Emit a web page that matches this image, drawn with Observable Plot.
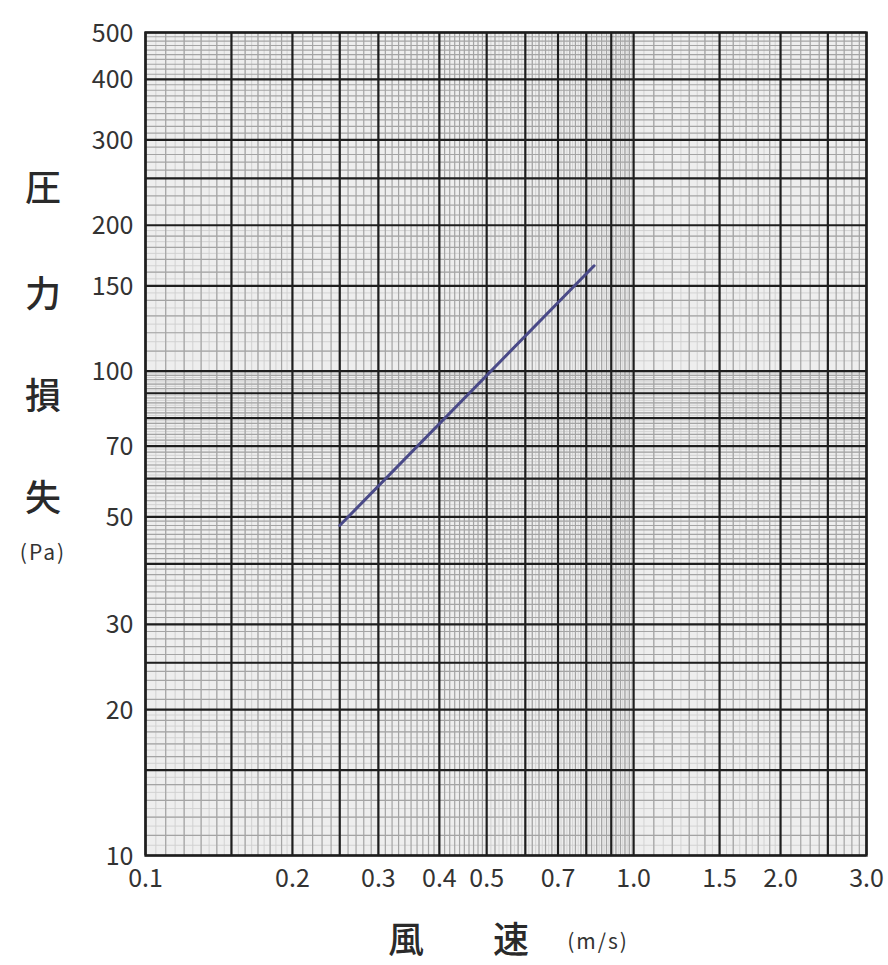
<!DOCTYPE html>
<html><head><meta charset="utf-8">
<script src="https://cdn.jsdelivr.net/npm/d3@7"></script>
<script src="https://cdn.jsdelivr.net/npm/@observablehq/plot@0.6"></script>
<style>
body{margin:0;background:#fff;}
#wrap{position:relative;width:888px;height:965px;font-family:"Noto Sans CJK JP",sans-serif;color:#2a2a2a;overflow:hidden;}
.t{position:absolute;white-space:nowrap;text-align:center;width:100px;height:50px;line-height:50px;}
.big{font-size:36px;font-weight:500;}
.unit{font-size:21px;letter-spacing:2px;color:#333;}
</style></head>
<body><div id="wrap"></div>
<script>
// scale domains
const xDomain = [0.1, 3.0];
const yDomain = [10, 500];
// heavy grid lines
const xMajor = [0.1, 0.15, 0.2, 0.25, 0.3, 0.4, 0.5, 0.6, 0.7, 0.8, 0.9, 1.0, 1.5, 2.0, 2.5, 3.0];
const yMajor = [10, 15, 20, 25, 30, 40, 50, 60, 70, 80, 90, 100, 150, 200, 250, 300, 400, 500];
// tick labels
const xTicks = [0.1, 0.2, 0.3, 0.4, 0.5, 0.7, 1.0, 1.5, 2.0, 3.0];
const yTicks = [10, 20, 30, 50, 70, 100, 150, 200, 300, 400, 500];
// graph-paper subdivisions: [start, end, step]
const xMediumSeg = [[0.1,0.2,0.01],[0.2,0.5,0.01],[0.5,1.0,0.02],[1.0,2.0,0.1],[2.0,3.0,0.1]];
const xFineSeg   = [[0.1,0.2,0.005],[0.5,1.0,0.01],[1.0,2.0,0.05]];
const yMediumSeg = [[10,20,1],[20,50,1],[50,100,2],[100,200,10],[200,500,10]];
const yFineSeg   = [[10,20,0.5],[50,100,1],[100,200,5]];
// series: 風速 (m/s) vs 圧力損失 (Pa)
const velocity = [0.25, 0.83];
const pressure = [48, 165];

function expand(segs){
  const out = [];
  for (const [a,b,s] of segs){
    const n = Math.round((b-a)/s);
    for (let i=1;i<n;i++) out.push(+(a+i*s).toFixed(4));
  }
  return out;
}
const xMedium = expand(xMediumSeg), xFine = expand(xFineSeg);
const yMedium = expand(yMediumSeg), yFine = expand(yFineSeg);
const series = velocity.map((v,i)=>({v, p: pressure[i]}));

const chart = Plot.plot({
  width: 888, height: 905,
  marginLeft: 145, marginRight: 22, marginTop: 32, marginBottom: 50,
  style: {fontSize: "25px", fontFamily: "'Noto Sans CJK JP', sans-serif", color: "#333", background: "transparent", overflow: "visible"},
  x: {type: "log", domain: xDomain},
  y: {type: "log", domain: yDomain},
  marks: [
    Plot.frame({fill: "#eeeeee"}),
    Plot.ruleX(xFine, {stroke: "#cfcfcf", strokeWidth: 0.9}),
    Plot.ruleY(yFine, {stroke: "#cfcfcf", strokeWidth: 0.9}),
    Plot.ruleX(xMedium, {stroke: "#a4a4a4", strokeWidth: 1.2}),
    Plot.ruleY(yMedium, {stroke: "#a4a4a4", strokeWidth: 1.2}),
    Plot.ruleX(xMajor, {stroke: "#1e1e1e", strokeWidth: 2.2}),
    Plot.ruleY(yMajor, {stroke: "#1e1e1e", strokeWidth: 2.2}),
    Plot.frame({stroke: "#1e1e1e", strokeWidth: 2.4}),
    Plot.line(series, {x: "v", y: "p", stroke: "#4a4a88", strokeWidth: 3}),
    Plot.axisX({ticks: xTicks, tickSize: 0, tickPadding: 14, label: null,
      tickFormat: d => d >= 1 ? d.toFixed(1) : String(d)}),
    Plot.axisY({ticks: yTicks, tickSize: 0, tickPadding: 12, label: null, dy: 1,
      tickFormat: d => String(d)})
  ]
});
const wrap = document.getElementById("wrap");
wrap.appendChild(chart);

const labels = [
  ["圧", 43, 185, "big"], ["力", 43, 291, "big"], ["損", 43, 393, "big"], ["失", 43, 495, "big"],
  ["(Pa)", 43, 551, "unit"],
  ["風", 406, 937, "big"], ["速", 511, 937, "big"], ["(m/s)", 598, 940, "unit"]
];
for (const [txt, x, y, cls] of labels){
  const s = document.createElement("span");
  s.className = "t " + cls;
  s.textContent = txt;
  s.style.left = (x - 50) + "px";
  s.style.top = (y - 25) + "px";
  wrap.appendChild(s);
}
</script>
</body></html>
